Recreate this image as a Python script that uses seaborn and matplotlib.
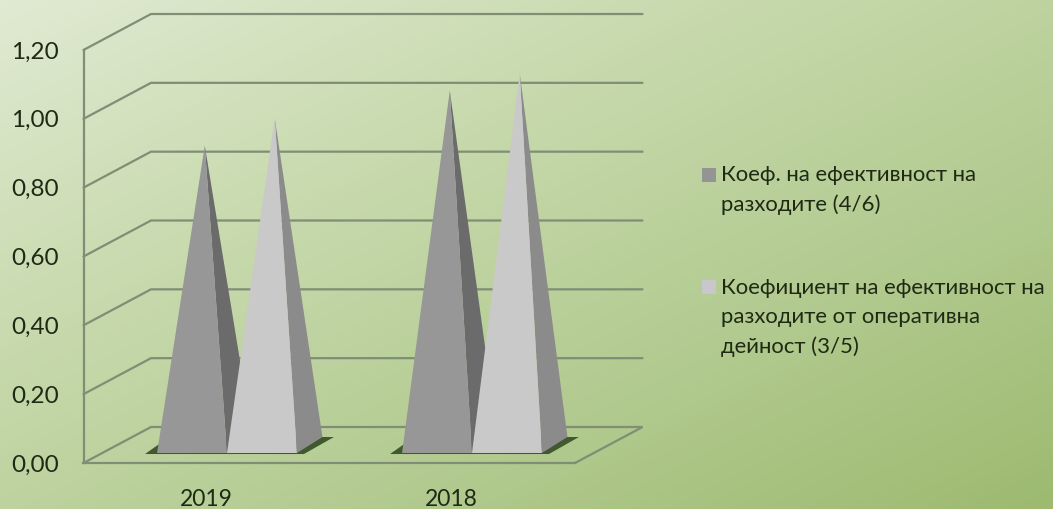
import matplotlib
matplotlib.use("Agg")
import matplotlib.pyplot as plt
import numpy as np
import pandas as pd
import seaborn as sns
from matplotlib.colors import LinearSegmentedColormap
from matplotlib.legend_handler import HandlerPatch
from matplotlib.patches import Patch, Polygon, Rectangle
from matplotlib.transforms import ScaledTranslation

years = ["2019", "2018"]
series_names = [
    "Коеф. на ефективност на\nразходите (4/6)",
    "Коефициент на ефективност на\nразходите от оперативна\nдейност (3/5)",
]
eff_total = [0.87, 1.03]
eff_operating = [0.95, 1.08]
y_ticks = [0.0, 0.2, 0.4, 0.6, 0.8, 1.0, 1.2]
y_tick_labels = ["0,00", "0,20", "0,40", "0,60", "0,80", "1,00", "1,20"]

front_colors = ["#979797", "#c9c9c9"]
side_colors = ["#6b6b6b", "#8b8b8b"]
legend_colors = ["#949494", "#c8c8cc"]
grid_color = "#7f8e74"
text_color = "#1e2a14"

sns.set_style("white")
plt.rcParams["font.family"] = ["Lato", "Open Sans", "DejaVu Sans"]

W, H = 1053, 509
fig = plt.figure(figsize=(W / 100, H / 100), dpi=100)

# diagonal background gradient
bg = fig.add_axes([0, 0, 1, 1], zorder=0)
xx, yy = np.meshgrid(np.linspace(0, 1, 300), np.linspace(0, 1, 150))
cmap = LinearSegmentedColormap.from_list("bg", ["#e0ead2", "#c8daae", "#b3cb91", "#9dba70"])
bg.imshow((xx + yy) / 2, cmap=cmap, aspect="auto", extent=[0, 1, 0, 1], origin="upper")
bg.axis("off")

# axes box is the front plane of the 3D chart
left, right, top, bottom = 83.5, 575, 50, 463
ax = fig.add_axes([left / W, 1 - bottom / H, (right - left) / W, (bottom - top) / H], zorder=1)
ax.patch.set_alpha(0)

df = pd.DataFrame({
    "year": years * 2,
    "series": [series_names[0]] * 2 + [series_names[1]] * 2,
    "value": eff_total + eff_operating,
})
sns.barplot(data=df, x="year", y="value", hue="series", order=years, hue_order=series_names,
            width=0.571, gap=0, dodge=True, legend=False, ax=ax)

PX_X = 245.0  # pixels per category
PX_Y = (bottom - top) / 1.2
ax.set_xlim((left - 227) / PX_X, (right - 227) / PX_X)
ax.set_ylim(0, 1.2)
xmin, xmax = ax.get_xlim()


def px(dx, dy):
    return dx / PX_X, dy / PX_Y


# back wall, side wall and floor lines
wall_dx, wall_dy = px(67.5, 36)
for t in y_ticks:
    xs = [xmin, xmin + wall_dx, xmax + wall_dx]
    ys = [t, t + wall_dy, t + wall_dy]
    if t == 0:
        xs.append(xmax)
        ys.append(0)
    ax.plot(xs, ys, color=grid_color, lw=1.6, clip_on=False, zorder=1, solid_joinstyle="miter")

# pyramids are built on top of the seaborn bars
depth_dx, depth_dy = px(25.5, 16)
_, base_y = px(0, 10)
for k, cont in enumerate(ax.containers):
    for bar in cont:
        x0, w, v = bar.get_x(), bar.get_width(), bar.get_height()
        bar.set_visible(False)
        cx = x0 + w / 2 + depth_dx / 2
        ay = base_y + depth_dy / 2 + v
        if k == 0:
            # dark shadow on the floor, one for each pair of pyramids
            sl, _ = px(12, 0)
            sr, _ = px(37, 0)
            pair_right = x0 + 2 * w
            shadow = [(x0 - sl, base_y - 0.003), (pair_right + px(7, 0)[0], base_y - 0.003),
                      (pair_right + sr, base_y + depth_dy), (x0 + sl, base_y + depth_dy)]
            ax.add_patch(Polygon(shadow, closed=True, fc="#41592e", ec="none", zorder=2, clip_on=False))
        z = 3 + k * 2
        ax.add_patch(Polygon([(x0 + w, base_y), (x0 + w + depth_dx, base_y + depth_dy), (cx, ay)],
                             closed=True, fc=side_colors[k], ec="none", zorder=z, clip_on=False))
        ax.add_patch(Polygon([(x0, base_y), (x0 + w, base_y), (cx, ay)],
                             closed=True, fc=front_colors[k], ec="none", zorder=z + 1, clip_on=False))

sns.despine(ax=ax, top=True, right=True, bottom=False, left=False)
for side in ["left", "bottom"]:
    ax.spines[side].set_color(grid_color)
    ax.spines[side].set_linewidth(1.6)
ax.set_xlabel("")
ax.set_ylabel("")
ax.set_yticks(y_ticks)
ax.set_yticklabels(y_tick_labels, fontsize=17.5, color=text_color)
ax.tick_params(axis="y", length=0, pad=18)
ax.set_xticks(range(len(years)))
ax.set_xticklabels(years, fontsize=16.5, color=text_color)
ax.tick_params(axis="x", length=0, pad=18.5)
shift = ScaledTranslation(-21 / 100, 0, fig.dpi_scale_trans)
for lab in ax.get_xticklabels():
    lab.set_transform(lab.get_transform() + shift)


def marker_on_first_line(up):
    # legend keys sit beside the first text line, not the middle of the block
    def make(legend, orig_handle, xdescent, ydescent, width, height, fontsize):
        return Rectangle((-xdescent, -ydescent + up), width, height)
    return HandlerPatch(patch_func=make)


handles = [Patch(fc=c, ec="none") for c in legend_colors]
fig.legend(handles, series_names, loc="upper left", bbox_to_anchor=(702 / W, 1 - 165 / H),
           frameon=False, fontsize=15.9, labelcolor=text_color, labelspacing=2.85,
           handlelength=0.62, handleheight=0.62, handletextpad=0.25, borderpad=0, borderaxespad=0,
           alignment="left",
           handler_map={handles[0]: marker_on_first_line(11), handles[1]: marker_on_first_line(22)})
for t in fig.legends[0].get_texts():
    t.set_linespacing(1.57)

fig.savefig("out.png", dpi=100)
